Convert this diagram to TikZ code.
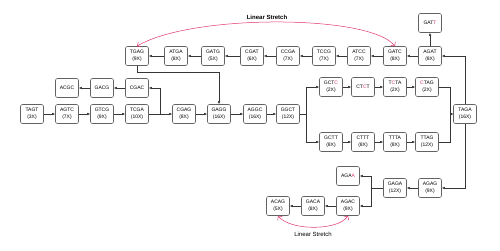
\documentclass[tikz,border=0pt]{standalone}
\usepackage{fontspec}
\setmainfont{Liberation Sans}
\usetikzlibrary{arrows.meta, calc}
\definecolor{boxline}{HTML}{626262}
\definecolor{wire}{HTML}{363636}
\definecolor{errc}{HTML}{E0346C}
\tikzset{
  kmer/.style={draw=boxline, fill=white, rounded corners=2pt, line width=0.6pt, align=center,
               font=\fontsize{5}{6.5}\selectfont, inner sep=0pt, minimum width=23pt, minimum height=19pt},
  arr/.style={-{Latex[length=3pt,width=2.6pt]}, draw=wire, line width=0.5pt},
  stretch/.style={{Straight Barb[length=3pt]}-{Straight Barb[length=3pt]}, draw=errc, line width=0.5pt},
  lbl/.style={font=\fontsize{6}{7}\selectfont, inner sep=1pt},
}
\newcommand{\err}[1]{\textcolor{errc}{#1}}

\begin{document}
\begin{tikzpicture}[x=1pt, y=-1pt]
\useasboundingbox (0,0) rectangle (500,250);

% ---------------- top row ----------------
\foreach \n/\x/\t in {tgag/137/{TGAG\\(9X)}, atga/176/{ATGA\\(8X)}, gatg/213/{GATG\\(5X)},
                      cgat/252/{CGAT\\(6X)}, ccga/288/{CCGA\\(7X)}, tccg/324/{TCCG\\(7X)},
                      atcc/359/{ATCC\\(7X)}, gatc/395/{GATC\\(8X)}, agat/430/{AGAT\\(8X)}} {
  \node[kmer] (\n) at (\x,56) {\t};
}
\node[kmer] (gatt) at (430,23) {GAT\err{T}};
\foreach \a/\b in {agat/gatc, gatc/atcc, atcc/tccg, tccg/ccga, ccga/cgat, cgat/gatg, gatg/atga, atga/tgag} {
  \draw[arr] (\a) -- (\b);
}
\draw[arr] (agat) -- (gatt);

% ---------------- left side ----------------
\node[kmer] (acgc) at (67,88) {ACGC};
\node[kmer] (gacg) at (102,88) {GACG};
\node[kmer] (cgac) at (137,88) {CGAC};
\draw[arr] (cgac) -- (gacg);
\draw[arr] (gacg) -- (acgc);

% ---------------- middle row ----------------
\foreach \n/\x/\t in {tagt/32/{TAGT\\(3X)}, agtc/67/{AGTC\\(7X)}, gtcg/102/{GTCG\\(9X)},
                      tcga/137/{TCGA\\(10X)}, cgag/184/{CGAG\\(8X)}, gagg/219/{GAGG\\(16X)},
                      aggc/255/{AGGC\\(16X)}, ggct/288/{GGCT\\(12X)}} {
  \node[kmer] (\n) at (\x,114) {\t};
}
\foreach \a/\b in {tagt/agtc, agtc/gtcg, gtcg/tcga, tcga/cgag, cgag/gagg, gagg/aggc, aggc/ggct} {
  \draw[arr] (\a) -- (\b);
}
\draw[arr] (tcga.east) -- ($(tcga.east)!0.5!(cgag.west)$) |- (cgac);
\draw[arr] (tgag) -- ++(0,16) -| (gagg);

% ---------------- bubble ----------------
\node[kmer] (gctc) at (331,87) {GCT\err{C}\\(2X)};
\node[kmer] (ctct) at (363,87) {CT\err{C}T};
\node[kmer] (tcta) at (395,87) {T\err{C}TA\\(2X)};
\node[kmer] (ctag) at (427,87) {\err{C}TAG\\(2X)};
\node[kmer] (gctt) at (331,142) {GCTT\\(8X)};
\node[kmer] (cttt) at (363,142) {CTTT\\(8X)};
\node[kmer] (ttta) at (395,142) {TTTA\\(8X)};
\node[kmer] (ttag) at (427,142) {TTAG\\(12X)};
\node[kmer] (taga) at (465,114) {TAGA\\(16X)};
\foreach \a/\b in {gctc/ctct, ctct/tcta, tcta/ctag, gctt/cttt, cttt/ttta, ttta/ttag} {
  \draw[arr] (\a) -- (\b);
}
\draw[arr] (ggct.east) -- ++(6,0) |- (gctc);
\draw[arr] (ggct.east) -- ++(6,0) |- (gctt);
\draw[arr] (ctag.east) -- ++(11,0) |- (taga);
\draw[arr] (ttag.east) -- ++(11,0) |- (taga);
\draw[arr] (taga) |- (agat);

% ---------------- bottom right ----------------
\node[kmer] (agag) at (430,188) {AGAG\\(9X)};
\node[kmer] (gaga) at (395,188) {GAGA\\(12X)};
\node[kmer] (agaa) at (348,176) {AGA\err{A}};
\node[kmer] (agac) at (348,206) {AGAC\\(9X)};
\node[kmer] (gaca) at (313,206) {GACA\\(8X)};
\node[kmer] (acag) at (278,206) {ACAG\\(5X)};
\draw[arr] (taga) |- (agag);
\draw[arr] (agag) -- (gaga);
\draw[arr] (gaga.west) -- ++(-12,0) |- (agaa);
\draw[arr] (gaga.west) -- ++(-12,0) |- (agac);
\draw[arr] (agac) -- (gaca);
\draw[arr] (gaca) -- (acag);

% ---------------- linear stretches ----------------
\draw[stretch] (tgag.north) .. controls (190,14) and (370,14) .. (gatc.north);
\node[lbl, font=\bfseries\fontsize{6}{7}\selectfont] (topstretch) at (267,17) {Linear Stretch};
\draw[stretch] (acag.south) .. controls (290,231) and (338,231) .. (agac.south);
\node[lbl] (botstretch) at (313,234) {Linear Stretch};

\end{tikzpicture}
\end{document}
